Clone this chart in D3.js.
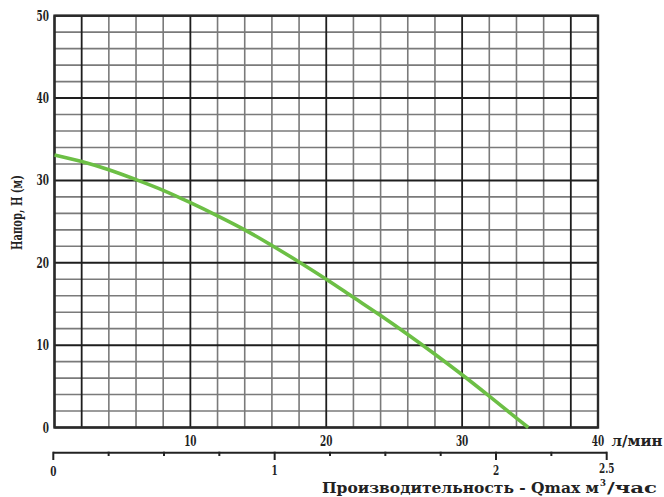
<!DOCTYPE html>
<html><head><meta charset="utf-8">
<script src="https://cdn.jsdelivr.net/npm/d3@7"></script>
<style>body{margin:0;background:#fff}svg{display:block}</style>
</head><body><div id="chart"></div>
<script>
const flowLpm = [0,2,4,6,8,10,12,14,16,18,20,22,24,26,28,30,32,34,34.87];
const headM   = [33.1,32.3,31.3,30.1,28.8,27.3,25.7,24.0,22.1,20.1,18.0,15.8,13.6,11.3,8.9,6.4,3.8,1.15,0];
const xTicks = [10,20,30,40];
const yTicks = [0,10,20,30,40,50];
const m3Ticks = [0,1,2,2.5];
const m3Minor = [0.25,0.5,0.75,1.25,1.5,1.75,2.25];
const darkCols = [2,38];

const FONT="'DejaVu Serif Condensed', 'DejaVu Serif', serif";
const W=664,H=497, L=54.5,R=598,T=15.7,B=427.5;
const svg=d3.select("#chart").append("svg").attr("width",W).attr("height",H)
  .style("font-family",FONT).attr("font-weight","bold");
const x=d3.scaleLinear().domain([0,40]).range([L,R]);
const y=d3.scaleLinear().domain([0,50]).range([B,T]);
const xm=d3.scaleLinear().domain([0,2.5]).range([53.3,606.7]);

const g=svg.append("g");
d3.range(0,41,2).forEach(v=>{
  const major=v%10===0||darkCols.includes(v);
  if(!major) g.append("line").attr("x1",x(v)).attr("x2",x(v)).attr("y1",T).attr("y2",B).attr("stroke","#7a7a7a").attr("stroke-width",1.6);
});
d3.range(0,51,2).forEach(v=>{
  if(v%10!==0) g.append("line").attr("y1",y(v)).attr("y2",y(v)).attr("x1",L).attr("x2",R).attr("stroke","#7a7a7a").attr("stroke-width",1.6);
});
d3.range(0,41,2).forEach(v=>{
  if(v%10===0||darkCols.includes(v)) g.append("line").attr("x1",x(v)).attr("x2",x(v)).attr("y1",T).attr("y2",B).attr("stroke","#1e1e1e").attr("stroke-width",1.8);
});
yTicks.forEach(v=>g.append("line").attr("y1",y(v)).attr("y2",y(v)).attr("x1",L).attr("x2",R).attr("stroke","#1e1e1e").attr("stroke-width",2));
g.append("rect").attr("x",L).attr("y",T).attr("width",R-L).attr("height",B-T).attr("fill","none").attr("stroke","#2a2a2a").attr("stroke-width",2.4);

const line=d3.line().x((d,i)=>x(flowLpm[i])).y(d=>y(d)).curve(d3.curveCatmullRom);
svg.append("path").datum(headM).attr("d",line).attr("fill","none").attr("stroke","#6cbf45").attr("stroke-width",3.6);

const txt=(px,py,s,anchor,fs,len,dy)=>{
  const e=svg.append("text").attr("x",px).attr("y",py).attr("dy",dy===undefined?"0.36em":dy)
  .attr("text-anchor",anchor).attr("font-size",fs).attr("fill","#222").text(s);
  if(len) e.attr("textLength",len).attr("lengthAdjust","spacingAndGlyphs");
  return e;
};
const dlen=s=>String(s).replace(".","").length*6.2+(String(s).includes(".")?3:0);
yTicks.forEach(v=>txt(49,y(v),v,"end",14,dlen(v)));
xTicks.forEach(v=>txt(x(v),440.7,v,"middle",14,dlen(v)));
txt(611.5,440.7,"л/мин","start",15,51);

const ax=svg.append("g");
ax.append("line").attr("x1",xm(0)).attr("x2",xm(2.5)).attr("y1",452.7).attr("y2",452.7).attr("stroke","#222").attr("stroke-width",2);
m3Ticks.forEach(v=>ax.append("line").attr("x1",xm(v)).attr("x2",xm(v)).attr("y1",451.7).attr("y2",460).attr("stroke","#222").attr("stroke-width",2));
m3Minor.forEach(v=>ax.append("line").attr("x1",xm(v)).attr("x2",xm(v)).attr("y1",451.7).attr("y2",456).attr("stroke","#222").attr("stroke-width",2));
const m3Y={0:471.5,1:470.5,2:470,2.5:468.5};
m3Ticks.forEach(v=>txt(xm(v),m3Y[v],v,"middle",13,dlen(v)));

txt(322,493,"Производительность - Qmax м","start",14.5,277,0);
txt(603,486,"3","middle",9.5,null,0);
txt(607,493,"/час","start",14.5,50,0);
svg.append("text").attr("transform","translate(16.5,212.5) rotate(-90)").attr("text-anchor","middle").attr("dy","0.36em")
  .attr("font-size",14).attr("fill","#222").attr("textLength",75).attr("lengthAdjust","spacingAndGlyphs").text("Напор, Н (м)");
</script></body></html>
